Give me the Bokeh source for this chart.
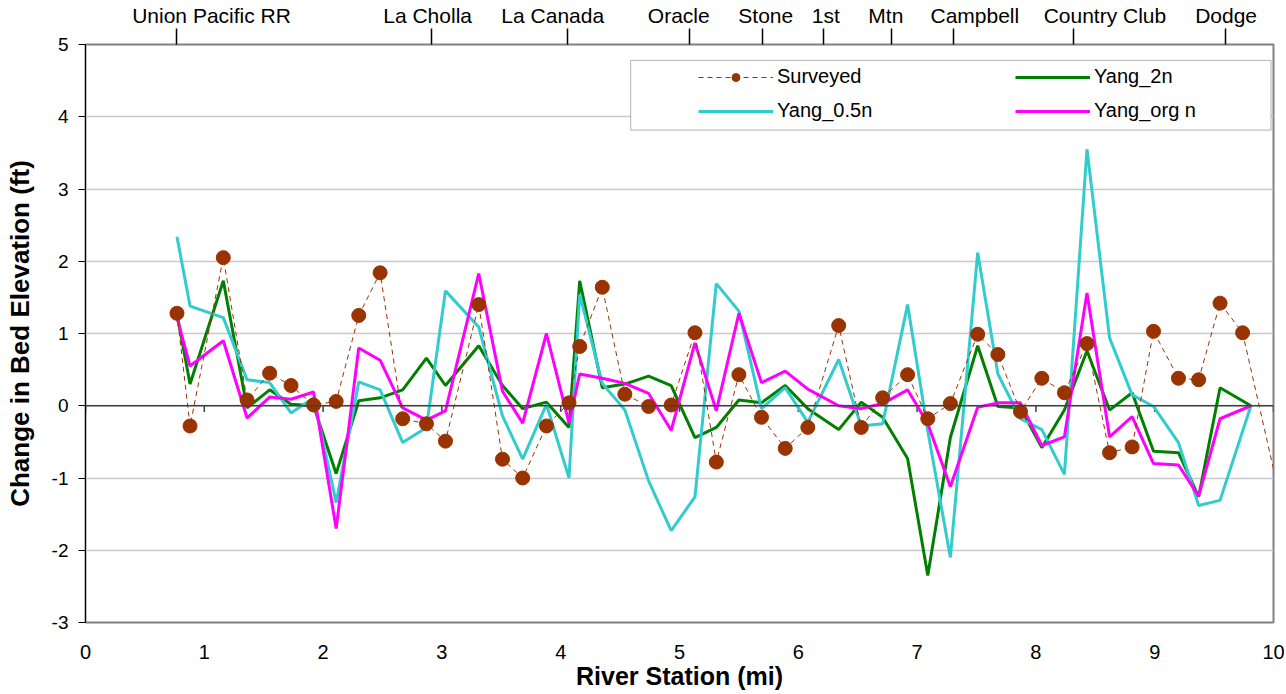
from bokeh.plotting import figure
from bokeh.models import (LinearAxis, FixedTicker, Range1d, Legend, LegendItem,
                          BoxAnnotation, Span)
from bokeh.embed import file_html
from bokeh.resources import INLINE

# River stations (mi) shared by the survey and the model runs
station = [0.77, 0.88, 1.16, 1.36, 1.55, 1.73, 1.92, 2.11, 2.30, 2.48,
           2.67, 2.87, 3.03, 3.31, 3.51, 3.68, 3.88, 4.07, 4.16, 4.35,
           4.54, 4.74, 4.93, 5.13, 5.31, 5.50, 5.69, 5.89, 6.08, 6.34,
           6.53, 6.71, 6.92, 7.09, 7.28, 7.51, 7.68, 7.87, 8.05, 8.24,
           8.43, 8.62, 8.81, 8.99, 9.20, 9.37, 9.55]
survey_station = station + [9.74, 10.10]
model_station = station + [9.81]

# Change in bed elevation (ft)
surveyed = [1.28, -0.28, 2.05, 0.08, 0.45, 0.28, 0.01, 0.06, 1.25, 1.84,
            -0.18, -0.25, -0.49, 1.40, -0.74, -1.00, -0.28, 0.04, 0.82, 1.64,
            0.16, -0.01, 0.01, 1.01, -0.78, 0.43, -0.16, -0.59, -0.30, 1.11,
            -0.30, 0.11, 0.43, -0.18, 0.03, 0.99, 0.71, -0.08, 0.38, 0.18,
            0.86, -0.65, -0.57, 1.03, 0.38, 0.36, 1.42, 1.01, -1.60]
yang_2n = [1.27, 0.30, 1.73, -0.03, 0.22, 0.02, 0.00, -0.94, 0.07, 0.11,
           0.22, 0.66, 0.28, 0.83, 0.28, -0.04, 0.05, -0.30, 1.73, 0.25,
           0.30, 0.41, 0.28, -0.44, -0.30, 0.08, 0.04, 0.28, -0.04, -0.33,
           0.05, -0.16, -0.73, -2.35, -0.44, 0.83, -0.01, -0.03, -0.58, -0.06,
           0.76, -0.06, 0.18, -0.63, -0.65, -1.26, 0.25, 0.00]
yang_05n = [2.34, 1.38, 1.22, 0.36, 0.32, -0.10, 0.11, -1.34, 0.33, 0.22,
            -0.51, -0.30, 1.59, 1.09, -0.14, -0.74, 0.02, -1.00, 1.54, 0.31,
            -0.06, -1.04, -1.73, -1.26, 1.69, 1.31, -0.04, 0.25, -0.23, 0.64,
            -0.28, -0.25, 1.40, -0.35, -2.10, 2.12, 0.44, -0.18, -0.33, -0.95,
            3.55, 0.94, 0.15, -0.01, -0.51, -1.38, -1.31, 0.00]
yang_org = [1.22, 0.55, 0.90, -0.17, 0.12, 0.09, 0.19, -1.70, 0.80, 0.63,
            -0.03, -0.20, -0.07, 1.83, 0.20, -0.24, 1.00, -0.24, 0.44, 0.38,
            0.31, 0.17, -0.34, 0.87, -0.07, 1.28, 0.32, 0.48, 0.23, 0.00,
            -0.04, 0.03, 0.22, -0.25, -1.12, -0.02, 0.04, 0.04, -0.55, -0.43,
            1.56, -0.43, -0.15, -0.80, -0.82, -1.25, -0.18, 0.00]

# Bridge crossings along the river: tick location and name placement (mi)
bridge_names = ["Union Pacific RR", "La Cholla", "La Canada", "Oracle", "Stone",
                "1st", "Mtn", "Campbell", "Country Club", "Dodge"]
bridge_mi = [0.766, 2.914, 4.059, 5.086, 5.701, 6.215, 6.787, 7.309, 8.320, 9.600]
bridge_label_mi = [1.061, 2.880, 3.933, 4.994, 5.726, 6.232, 6.737, 7.486, 8.581, 9.601]

x_ticks = list(range(0, 11))
y_ticks = list(range(-3, 6))

FONT = "Liberation Sans"

p = figure(width=1286, height=694, output_backend="svg", toolbar_location=None,
           x_range=Range1d(0, 10), y_range=Range1d(-3, 5),
           min_border_left=85, min_border_right=13,
           min_border_top=44, min_border_bottom=72)
p.background_fill_color = "white"
p.border_fill_color = "white"
p.outline_line_color = "#808080"
p.outline_line_width = 2

p.xgrid.visible = False
p.ygrid.ticker = FixedTicker(ticks=y_ticks)
p.ygrid.grid_line_color = "#c8c8c8"
p.ygrid.grid_line_width = 1.5

# bottom axis: labels and title only
xa = p.xaxis[0]
xa.ticker = FixedTicker(ticks=x_ticks)
xa.axis_line_color = None
xa.major_tick_line_color = None
xa.minor_tick_line_color = None
xa.major_tick_out = 0
xa.major_label_standoff = 22
xa.major_label_text_font = FONT
xa.major_label_text_font_size = "20px"
xa.major_label_text_color = "black"
xa.axis_label = "River Station (mi)"
xa.axis_label_text_font = FONT
xa.axis_label_text_font_size = "25px"
xa.axis_label_text_font_style = "bold"
xa.axis_label_text_color = "black"
xa.axis_label_standoff = 0

# horizontal axis line through zero, with its tick marks hanging below
p.add_layout(Span(location=0, dimension="width", line_color="#404040", line_width=1.5))
p.segment(x0=x_ticks, x1=x_ticks, y0=[0] * len(x_ticks), y1=[-0.085] * len(x_ticks),
          line_color="#404040", line_width=1.5)

ya = p.yaxis[0]
ya.ticker = FixedTicker(ticks=y_ticks)
ya.major_label_overrides = {t: str(t) for t in y_ticks}
ya.axis_line_color = "black"
ya.axis_line_width = 1
ya.major_tick_line_color = "black"
ya.major_tick_in = 0
ya.major_tick_out = 7
ya.minor_tick_line_color = None
ya.major_label_standoff = 10
ya.major_label_text_font = FONT
ya.major_label_text_font_size = "19px"
ya.major_label_text_color = "black"
ya.axis_label = "Change in Bed Elevation (ft)"
ya.axis_label_text_font = FONT
ya.axis_label_text_font_size = "26px"
ya.axis_label_text_font_style = "bold"
ya.axis_label_text_color = "black"
ya.axis_label_standoff = 14

# bridges along the top: short marks at each crossing, names set beside them
top = LinearAxis(ticker=FixedTicker(ticks=bridge_label_mi, minor_ticks=bridge_mi),
                 major_label_overrides={m: n for m, n in zip(bridge_label_mi, bridge_names)},
                 axis_line_color=None,
                 major_tick_line_color=None, major_tick_in=0, major_tick_out=0,
                 minor_tick_line_color="black", minor_tick_line_width=1.5,
                 minor_tick_in=0, minor_tick_out=16,
                 major_label_standoff=2,
                 major_label_text_font=FONT,
                 major_label_text_font_size="21px",
                 major_label_text_color="black")
p.add_layout(top, "above")

# series
r_2n = p.line(model_station, yang_2n, line_color="#008000", line_width=3)
r_05 = p.line(model_station, yang_05n, line_color="#33CCCC", line_width=3)
r_org = p.line(model_station, yang_org, line_color="#FF00FF", line_width=3)
r_sv_line = p.line(survey_station, surveyed, line_color="#993300",
                   line_width=1, line_dash="5 4")
r_sv_pts = p.scatter(survey_station, surveyed, size=14, marker="circle",
                     fill_color="#993300", line_color="#993300")

# legend frame
p.add_layout(BoxAnnotation(left=4.589, right=9.979, bottom=3.815, top=4.78,
                           fill_color="white", fill_alpha=1.0,
                           line_color="black", line_width=1))

common = dict(orientation="vertical", padding=0, margin=0, spacing=11,
              glyph_width=75, glyph_height=20, label_height=20, label_standoff=4,
              label_text_font=FONT, label_text_font_size="20px",
              label_text_color="black",
              border_line_alpha=0, background_fill_alpha=0)
leg_left = Legend(items=[LegendItem(label="Surveyed", renderers=[r_sv_line, r_sv_pts]),
                         LegendItem(label="Yang_0.5n", renderers=[r_05])],
                  location=(613, 500), **common)
leg_right = Legend(items=[LegendItem(label="Yang_2n", renderers=[r_2n]),
                          LegendItem(label="Yang_org n", renderers=[r_org])],
                   location=(930, 500), **common)
p.add_layout(leg_left)
p.add_layout(leg_right)

open("out.html", "w").write(file_html(p, INLINE))
